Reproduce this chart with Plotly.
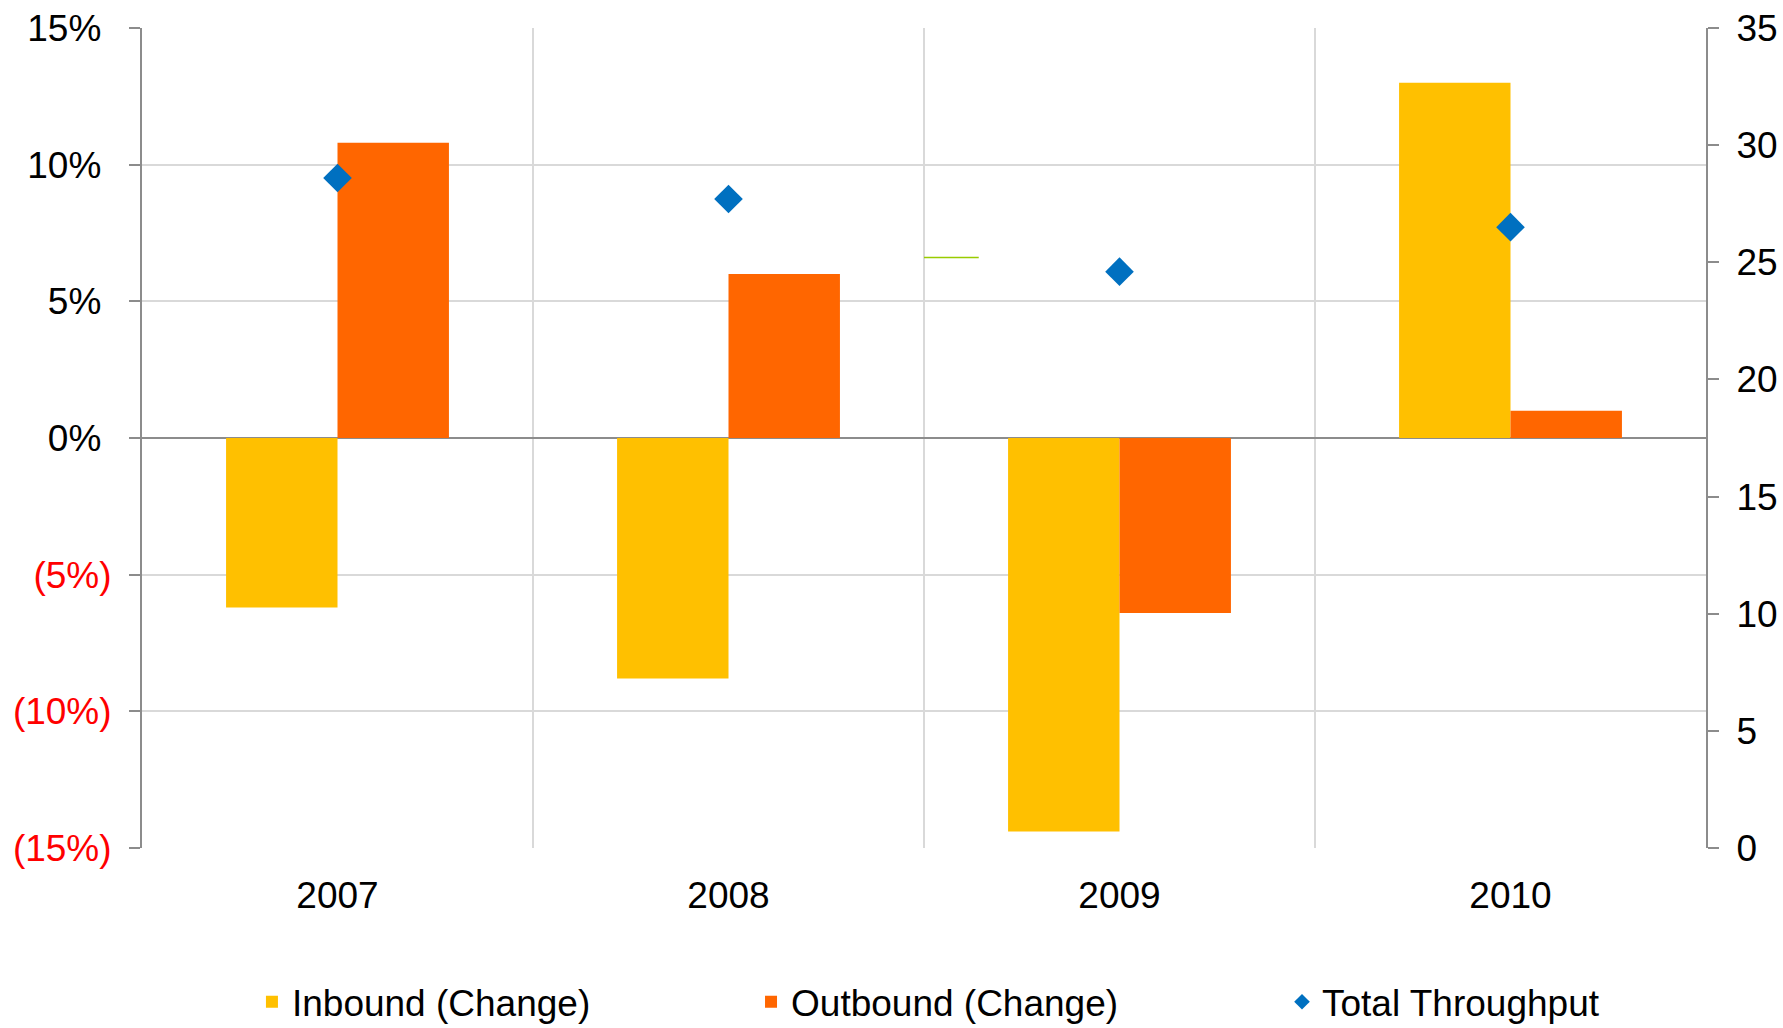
import plotly.graph_objects as go

# Year-over-year change in inbound / outbound volume and total throughput
years = ["2007", "2008", "2009", "2010"]
inbound_change = [-6.2, -8.8, -14.4, 13.0]     # %
outbound_change = [10.8, 6.0, -6.4, 1.0]       # %
total_throughput = [28.6, 27.7, 24.6, 26.5]    # right axis units

pct_ticks = [15, 10, 5, 0, -5, -10, -15]
pct_labels = ["15%", "10%", "5%", "0%", "(5%)", "(10%)", "(15%)"]
right_ticks = [0, 5, 10, 15, 20, 25, 30, 35]

FONT = "Liberation Sans, Arial, Helvetica, sans-serif"
FS = 37
GRID = "#D9D9D9"
AXIS = "#8C8C8C"


def color_label(v, text):
    # negatives in red parentheses; positives padded to line up with ")"
    if v < 0:
        return f"<span style='color:#FF0000'>{text}</span>"
    return text + "\u00a0"


fig = go.Figure()
fig.add_trace(go.Bar(
    x=years, y=inbound_change, name="Inbound (Change)", legend="legend",
    marker=dict(color="#FFC000", line=dict(width=0)),
))
fig.add_trace(go.Bar(
    x=years, y=outbound_change, name="Outbound (Change)", legend="legend2",
    marker=dict(color="#FF6600", line=dict(width=0)),
))
fig.add_trace(go.Scatter(
    x=years, y=total_throughput, name="Total Throughput", yaxis="y2",
    legend="legend3", mode="markers",
    marker=dict(symbol="diamond", size=22, color="#0070C0"),
))

# short reference line next to the 2009 boundary
fig.add_shape(type="line", xref="x", yref="y",
              x0=1.5, x1=1.64, y0=6.6, y1=6.6,
              line=dict(color="#99CC00", width=1.5))

legend_common = dict(orientation="h", xanchor="left", y=-0.188,
                     yanchor="middle", font=dict(size=FS),
                     itemsizing="constant", bgcolor="rgba(0,0,0,0)")

fig.update_layout(
    width=1783, height=1028,
    margin=dict(l=142, r=77, t=28, b=180, autoexpand=False),
    paper_bgcolor="white", plot_bgcolor="white",
    font=dict(family=FONT, size=FS, color="#000000"),
    barmode="group", bargap=0.43, bargroupgap=0,
    showlegend=True,
    legend=dict(x=0.0703, **legend_common),
    legend2=dict(x=0.3894, **legend_common),
    legend3=dict(x=0.7289, **legend_common),
    xaxis=dict(
        type="category", tickson="boundaries", showgrid=True, gridcolor=GRID,
        gridwidth=1.5, ticks="", showline=False, zeroline=False,
        ticklabelstandoff=22, tickfont=dict(size=FS),
    ),
    yaxis=dict(
        range=[-15, 15], tickvals=pct_ticks,
        ticktext=[color_label(v, t) for v, t in zip(pct_ticks, pct_labels)],
        showgrid=True, gridcolor=GRID, gridwidth=1.5,
        zeroline=True, zerolinecolor=AXIS, zerolinewidth=2,
        showline=True, linecolor=AXIS, linewidth=2,
        ticks="outside", ticklen=11, tickcolor=AXIS, tickwidth=2,
        ticklabelstandoff=10, tickfont=dict(size=FS),
    ),
    yaxis2=dict(
        range=[0, 35], tickvals=right_ticks, overlaying="y", side="right",
        showgrid=False, zeroline=False,
        showline=True, linecolor=AXIS, linewidth=2,
        ticks="outside", ticklen=11, tickcolor=AXIS, tickwidth=2,
        ticklabelstandoff=10, tickfont=dict(size=FS),
    ),
)

fig.write_html("out.html")
